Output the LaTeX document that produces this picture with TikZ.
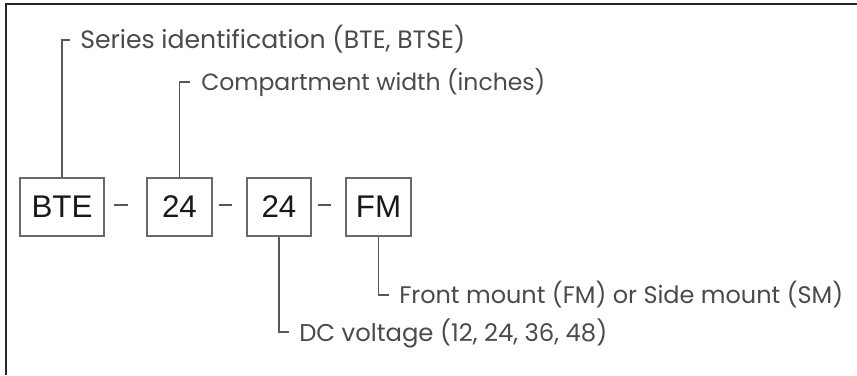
\documentclass[tikz,border=0pt]{standalone}
\usepackage{fontspec}
\setmainfont{Liberation Sans}
\newfontfamily\labfont{Poppins}
\newcommand\fitlab[2]{\resizebox{#1}{!}{\labfont\fontsize{10pt}{12pt}\selectfont #2}}
\definecolor{labgray}{HTML}{4A4A4A}
\definecolor{linegray}{HTML}{585858}
\definecolor{boxgray}{HTML}{6A6A6A}
\begin{document}
\begin{tikzpicture}[x=0.75pt,y=-0.75pt,
  codebox/.style={draw=boxgray,line width=0.9pt,minimum height=43.5pt,inner sep=0pt,
    font=\fontsize{23.5pt}{26pt}\selectfont,text=black!90},
  lab/.style={anchor=base west,inner sep=0pt,text=labgray},
  conn/.style={draw=linegray,line width=0.9pt},
  sep/.style={draw=linegray,line width=0.9pt}]
\useasboundingbox (0,0) rectangle (857,375);
% frame
\draw[line width=1.5pt,black!85] (6,375) -- (6,4) -- (857,4);
% code boxes
\node[codebox,minimum width=63pt] (bte) at (62,207) {BTE};
\node[codebox,minimum width=48.75pt] (w) at (179.5,207) {24};
\node[codebox,minimum width=48pt] (v) at (279,207) {24};
\node[codebox,minimum width=48.75pt] (fm) at (378.5,207) {FM};
% separators
\draw[sep] ([xshift=6.75pt,yshift=1.5pt]bte.east) -- ++(10.5pt,0);
\draw[sep] ([xshift=4.5pt,yshift=1.5pt]w.east) -- ++(10pt,0);
\draw[sep] ([xshift=4.5pt,yshift=1.5pt]v.east) -- ++(10pt,0);
% labels
\node[lab] (ls) at (80,48) {\fitlab{288.75pt}{Series identification (BTE, BTSE)}};
\node[lab] (lw) at (201,90) {\fitlab{258pt}{Compartment width (inches)}};
\node[lab] (lf) at (399,303) {\fitlab{333pt}{Front mount (FM) or Side mount (SM)}};
\node[lab] (lv) at (299,341) {\fitlab{231pt}{DC voltage (12, 24, 36, 48)}};
% connector ends
\coordinate (ts) at (70,40);
\coordinate (tw) at (189.5,82);
\coordinate (tf) at (388.5,295);
\coordinate (tv) at (289,332);
\draw[conn] (bte.north) |- (ts);
\draw[conn] (w.north) |- (tw);
\draw[conn] (fm.south) |- (tf);
\draw[conn] (v.south) |- (tv);
\end{tikzpicture}
\end{document}
